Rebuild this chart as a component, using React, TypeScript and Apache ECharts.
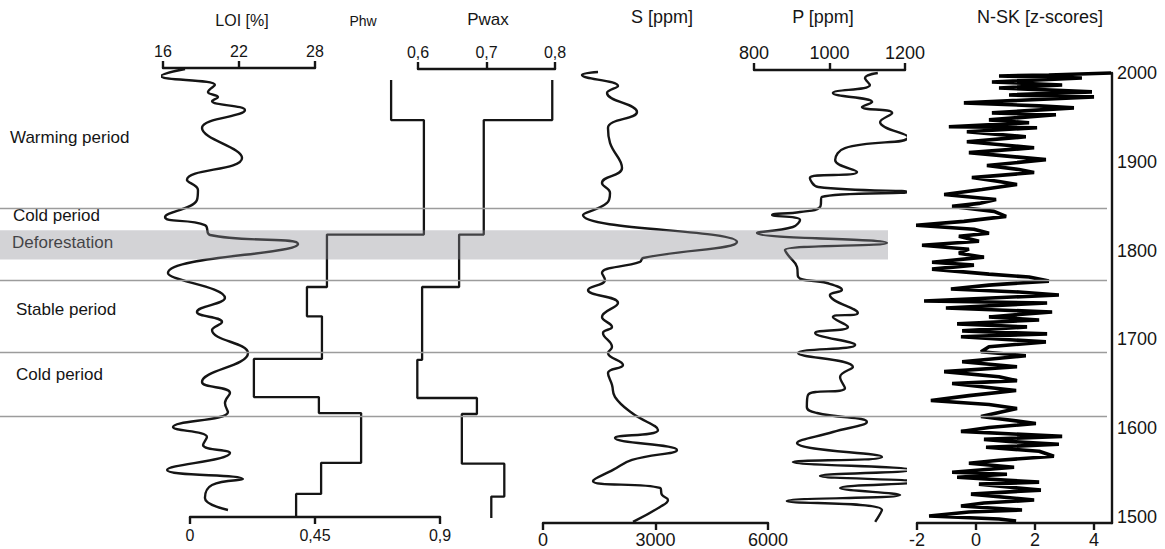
import React, { useEffect, useRef } from 'react';
import * as echarts from 'echarts';

// ---------------- data ----------------
const loiYears = [2004.5, 1996.6, 1986.5, 1978.6, 1973.0, 1968.5, 1958.3, 1938.1, 1904.3, 1879.5, 1868.2, 1857.0, 1837.8, 1828.8, 1817.6, 1807.4, 1774.8, 1746.6, 1730.9, 1719.6, 1710.6, 1684.7, 1652.0, 1639.7, 1628.4, 1618.2, 1601.3, 1590.1, 1581.1, 1572.1, 1552.9, 1542.8, 1536.0, 1521.4, 1507.9];
const loiValues = [17.74, 15.84, 20.10, 19.55, 20.34, 19.87, 22.47, 19.08, 22.24, 17.89, 18.76, 18.68, 16.16, 19.31, 19.71, 26.66, 16.39, 20.89, 18.68, 20.66, 19.87, 22.71, 19.08, 21.29, 20.89, 21.13, 16.79, 19.47, 19.16, 21.29, 16.32, 22.31, 19.87, 19.31, 21.13];

// step series: boundaries (years) and one value per interval
const phwBounds = [1992, 1947, 1818, 1759, 1726, 1678, 1635, 1617, 1561, 1526, 1500];
const phwValues = [0.724, 0.842, 0.493, 0.421, 0.475, 0.230, 0.464, 0.616, 0.472, 0.382];

const pwaxBounds = [1992, 1947, 1818, 1759, 1677, 1634, 1616, 1560, 1523, 1499];
const pwaxValues = [0.796, 0.696, 0.660, 0.606, 0.599, 0.686, 0.664, 0.726, 0.707];

const sYears = [2001.1, 1997.7, 1985.4, 1977.5, 1956.1, 1938.1, 1921.2, 1893.0, 1876.1, 1864.9, 1853.6, 1840.1, 1809.7, 1791.7, 1787.2, 1774.8, 1766.9, 1755.6, 1741.0, 1725.2, 1714.0, 1707.2, 1691.4, 1684.7, 1671.2, 1662.2, 1648.7, 1635.1, 1617.1, 1598.0, 1589.0, 1575.5, 1564.2, 1553.0, 1540.6, 1532.7, 1524.8, 1519.2, 1511.3, 1494.4];
const sValues = [1467, 1040, 2000, 1707, 2507, 1733, 1787, 2107, 1573, 1787, 1707, 1067, 5173, 2667, 2587, 1573, 1653, 1200, 2000, 1573, 1840, 1600, 1840, 1733, 2133, 1733, 1840, 1920, 2373, 3067, 1920, 3573, 2373, 1867, 1333, 3120, 3173, 3333, 3120, 2400];

const pYears = [2000.0, 1994.4, 1986.5, 1977.5, 1967.3, 1961.7, 1955.0, 1944.8, 1927.9, 1915.5, 1902.0, 1888.5, 1881.8, 1871.6, 1866.0, 1860.4, 1849.1, 1843.5, 1840.1, 1834.5, 1826.6, 1819.8, 1808.6, 1800.7, 1795.0, 1781.5, 1770.3, 1763.5, 1755.6, 1750.0, 1729.7, 1725.2, 1714.0, 1707.2, 1693.7, 1684.7, 1668.9, 1657.7, 1645.3, 1637.4, 1623.9, 1617.1, 1607.0, 1595.7, 1583.3, 1567.6, 1562.0, 1553.0, 1546.2, 1539.4, 1532.7, 1524.8, 1518.0, 1507.9, 1494.4];
const pValues = [1128, 1094, 1107, 1009, 1113, 1086, 1166, 1134, 1208, 1041, 1015, 1073, 948, 970, 1208, 980, 975, 922, 848, 922, 903, 808, 1152, 882, 890, 914, 917, 993, 1033, 1001, 1075, 1009, 1049, 962, 1068, 917, 1062, 1028, 1041, 943, 940, 967, 1099, 1009, 914, 1139, 903, 1219, 975, 1234, 1028, 1187, 887, 1139, 1121];

const nskYears = [2000.0, 1997.7, 1996.6, 1994.4, 1989.9, 1986.5, 1983.1, 1978.6, 1975.2, 1973.0,
  1966.2, 1962.8, 1960.6, 1954.9, 1952.7, 1947.0, 1943.7, 1939.2, 1938.1, 1933.6,
  1927.9, 1922.3, 1915.5, 1909.9, 1902.0, 1895.3, 1890.8, 1887.4, 1881.7, 1877.3,
  1873.9, 1868.2, 1862.6, 1857.0, 1852.5, 1849.1, 1843.5, 1837.8, 1832.2, 1827.7,
  1823.2, 1818.7, 1815.3, 1809.7, 1805.2, 1800.7, 1796.2, 1791.7, 1786.0, 1782.7,
  1778.2, 1772.5, 1769.2, 1764.6, 1760.1, 1755.6, 1752.3, 1748.9, 1742.1, 1739.9,
  1734.2, 1729.7, 1724.1, 1720.7, 1716.2, 1712.8, 1708.3, 1704.9, 1701.6, 1695.9,
  1690.3, 1684.7, 1680.2, 1673.4, 1667.8, 1662.2, 1656.5, 1652.0, 1648.7, 1640.8,
  1635.1, 1629.5, 1625.0, 1620.5, 1611.5, 1603.6, 1599.1, 1594.6, 1589.0, 1585.6,
  1583.3, 1580.0, 1576.6, 1572.1, 1566.5, 1562.0, 1558.6, 1554.1, 1548.4, 1546.2,
  1542.8, 1537.2, 1535.0, 1528.2, 1523.7, 1517.0, 1513.6, 1510.2, 1505.7, 1503.5,
  1499.0, 1495.5, 1493.3];
const nskValues = [4.58, 2.47, 0.78, 3.59, 0.54, 2.92, 0.78, 3.93, 1.12, 4.00,
  -0.41, 2.14, 3.32, 0.54, 2.71, 0.44, 1.80, -0.92, 2.07, -0.31,
  1.69, -0.31, 1.97, -0.24, 2.37, 0.37, 1.46, 1.97, -0.14, 0.78,
  1.39, 0.20, -1.08, 0.68, 0.10, -0.81, 0.61, 1.02, -0.41, -2.03,
  -0.07, 0.44, -0.58, 0.10, -1.83, -0.24, -0.58, 0.27, -1.49, -0.07,
  -1.49, 0.44, 1.80, 2.47, 0.44, -0.85, 1.46, 2.81, -1.76, 2.41,
  -1.02, 2.58, 0.44, 2.14, -0.64, 1.73, -0.47, 2.41, -0.51, 2.37,
  0.44, 0.17, 1.69, -0.47, 1.39, -1.08, 0.78, 1.39, -0.81, 1.36,
  -0.24, -1.53, 0.44, 1.39, 0.17, 2.03, 0.44, -0.51, 2.92, 0.27,
  1.12, 2.81, 0.34, 2.14, 2.64, 0.78, -0.24, 1.29, -0.81, 1.05,
  -0.64, 2.14, 0.10, 2.20, -0.17, 1.97, 0.27, -0.51, 1.56, -0.24,
  -1.59, 0.78, 1.36];

const periodBoundaries = [1848, 1767, 1685, 1613];
const deforestation = [1790, 1823];
const yearTicks = [1500, 1600, 1700, 1800, 1900, 2000];

const loiTicks = [16, 22, 28];
const phwTicks = [0, 0.45, 0.9];
const pwaxTicks = [0.6, 0.7, 0.8];
const sTicks = [0, 3000, 6000];
const pTicks = [800, 1000, 1200];
const nskTicks = [-2, 0, 2, 4];

const periodLabels = ['Warming period', 'Cold period', 'Deforestation', 'Stable period', 'Cold period'];
const panelTitles = ['LOI [%]', 'Phw', 'Pwax', 'S [ppm]', 'P [ppm]', 'N-SK [z-scores]'];

// ---------------- layout ----------------
const Y_2000 = 73;
const PX_PER_YEAR = 0.888;
const yPix = (yr: number) => Y_2000 + (2000 - yr) * PX_PER_YEAR;
const gridBox = (left: number, width: number, yMin: number, yMax: number) => ({
  left, width, top: yPix(yMax), height: yPix(yMin) - yPix(yMax),
});

const FONT = "'Liberation Sans', Arial, sans-serif";
const INK = '#151515';
const comma = (v: number) => String(v).replace('.', ',');
const plain = (v: number) => String(v);

const zip = (xs: number[], ys: number[]) => {
  const n = Math.min(xs.length, ys.length);
  const out: number[][] = [];
  for (let i = 0; i < n; i++) out.push([xs[i], ys[i]]);
  return out;
};
const steps = (bounds: number[], vals: number[]) => {
  const out: number[][] = [];
  for (let i = 0; i < vals.length; i++) {
    out.push([vals[i], bounds[i]]);
    out.push([vals[i], bounds[i + 1]]);
  }
  return out;
};

const grids = [
  { id: 'bg', ...gridBox(0, 1107, 1491, 2000), yMin: 1491, yMax: 2000 },
  { id: 'loi', ...gridBox(163, 152, 1495, 2005.6), yMin: 1495, yMax: 2005.6 },
  { id: 'phw', ...gridBox(190, 250, 1500, 2000), yMin: 1500, yMax: 2000 },
  { id: 'pwax', ...gridBox(418, 137, 1495, 2004.5), yMin: 1495, yMax: 2004.5 },
  { id: 's', ...gridBox(543, 225, 1493.2, 2002), yMin: 1493.2, yMax: 2002 },
  { id: 'p', ...gridBox(754, 151, 1492, 2003.4), yMin: 1492, yMax: 2003.4 },
  { id: 'nsk', ...gridBox(917, 195, 1491, 2000), yMin: 1491, yMax: 2000 },
  { id: 'years', ...gridBox(917, 195, 1500, 2000), yMin: 1500, yMax: 2000 },
];

function makeX(gridIndex: number, position: 'top' | 'bottom', min: number, max: number, ticks: number[], fontSize: number, fmt: (v: number) => string, margin = 9) {
  return {
    type: 'value', gridIndex, position, min, max,
    axisLine: { show: true, onZero: false, lineStyle: { color: INK, width: 2.4 } },
    axisTick: { show: true, length: 7, customValues: ticks, lineStyle: { color: INK, width: 2.4 } },
    axisLabel: { show: true, customValues: ticks, margin, fontSize, fontFamily: FONT, color: INK, formatter: fmt },
    splitLine: { show: false },
  };
}

export default function App() {
  const ref = useRef<HTMLDivElement>(null);
  useEffect(() => {
    if (!ref.current) return;
    const chart = echarts.init(ref.current, null, { renderer: 'svg' });

    const xAxes: any[] = [
      { type: 'value', gridIndex: 0, min: 0, max: 1, show: false },
      makeX(1, 'top', 16, 28, loiTicks, 16, plain),
      makeX(2, 'bottom', 0, 0.9, phwTicks, 16, comma, 10),
      makeX(3, 'top', 0.6, 0.8, pwaxTicks, 16, comma),
      makeX(4, 'bottom', 0, 6000, sTicks, 18, plain, 8),
      makeX(5, 'top', 800, 1200, pTicks, 18, plain, 8),
      makeX(6, 'bottom', -2, 4.61, nskTicks, 18, plain, 8),
      { type: 'value', gridIndex: 7, min: 0, max: 1, show: false },
    ];

    const yAxes: any[] = grids.map((g, i) => {
      const base: any = {
        type: 'value', gridIndex: i, min: g.yMin, max: g.yMax,
        axisLine: { show: false, onZero: false }, axisTick: { show: false },
        axisLabel: { show: false }, splitLine: { show: false },
      };
      if (g.id === 'nsk') {
        base.position = 'right';
        base.axisLine = { show: true, onZero: false, lineStyle: { color: INK, width: 2.4 } };
      }
      if (g.id === 'years') {
        base.position = 'right';
        base.interval = 100;
        base.axisLabel = { show: true, margin: 5, fontSize: 18, fontFamily: FONT, color: INK, customValues: yearTicks, formatter: plain };
      }
      return base;
    });

    const lineBase = {
      type: 'line', showSymbol: false, symbol: 'none', clip: false, silent: true, z: 3,
    };

    const series: any[] = [
      {
        ...lineBase, xAxisIndex: 0, yAxisIndex: 0, data: [[0, 1491]], lineStyle: { opacity: 0 }, z: 10,
        markLine: {
          silent: true, symbol: ['none', 'none'], label: { show: false }, z: 4,
          lineStyle: { color: '#9c9c9c', width: 1.3, type: 'solid' },
          data: periodBoundaries.map((y) => ({ yAxis: y })),
        },
        markArea: {
          silent: true, z: 10,
          itemStyle: { color: 'rgba(140,140,146,0.38)' },
          data: [[{ xAxis: 0, yAxis: deforestation[1] }, { xAxis: 888 / 1107, yAxis: deforestation[0] }]],
        },
      },
      { ...lineBase, xAxisIndex: 1, yAxisIndex: 1, smooth: 0.45, data: zip(loiValues, loiYears), lineStyle: { color: INK, width: 2.4 } },
      { ...lineBase, xAxisIndex: 2, yAxisIndex: 2, data: steps(phwBounds, phwValues), lineStyle: { color: INK, width: 2.3 } },
      { ...lineBase, xAxisIndex: 3, yAxisIndex: 3, data: steps(pwaxBounds, pwaxValues), lineStyle: { color: INK, width: 2.3 } },
      { ...lineBase, xAxisIndex: 4, yAxisIndex: 4, smooth: 0.45, data: zip(sValues, sYears), lineStyle: { color: INK, width: 2.4 } },
      { ...lineBase, xAxisIndex: 5, yAxisIndex: 5, smooth: 0.45, data: zip(pValues, pYears), lineStyle: { color: INK, width: 2.4 } },
      { ...lineBase, xAxisIndex: 6, yAxisIndex: 6, data: zip(nskValues, nskYears), lineStyle: { color: '#000', width: 3.6 } },
    ];

    const titlePos = [
      { x: 242, y: 20, size: 16 },
      { x: 363, y: 21, size: 14 },
      { x: 488, y: 19, size: 17 },
      { x: 662, y: 17, size: 18 },
      { x: 823, y: 17, size: 18 },
      { x: 1040, y: 17, size: 18 },
    ];
    const labelPos = [
      { x: 10, y: 137 },
      { x: 13, y: 215 },
      { x: 12, y: 242 },
      { x: 16, y: 309 },
      { x: 16, y: 374 },
    ];

    const graphic: any[] = [
      ...panelTitles.map((t, i) => ({
        type: 'text', silent: true,
        style: { text: t, x: titlePos[i].x, y: titlePos[i].y, textAlign: 'center', textVerticalAlign: 'middle', font: `${titlePos[i].size}px ${FONT}`, fill: INK },
      })),
      ...periodLabels.map((t, i) => ({
        type: 'text', silent: true,
        style: { text: t, x: labelPos[i].x, y: labelPos[i].y, textAlign: 'left', textVerticalAlign: 'middle', font: `17px ${FONT}`, fill: INK },
      })),
    ];

    chart.setOption({
      animation: false,
      backgroundColor: '#ffffff',
      grid: grids.map((g) => ({ left: g.left, width: g.width, top: g.top, height: g.height, containLabel: false })),
      xAxis: xAxes,
      yAxis: yAxes,
      series,
      graphic,
    });
    return () => chart.dispose();
  }, []);
  return <div ref={ref} style={{ position: 'absolute', left: 0, top: 0, width: 1165, height: 549 }} />;
}
